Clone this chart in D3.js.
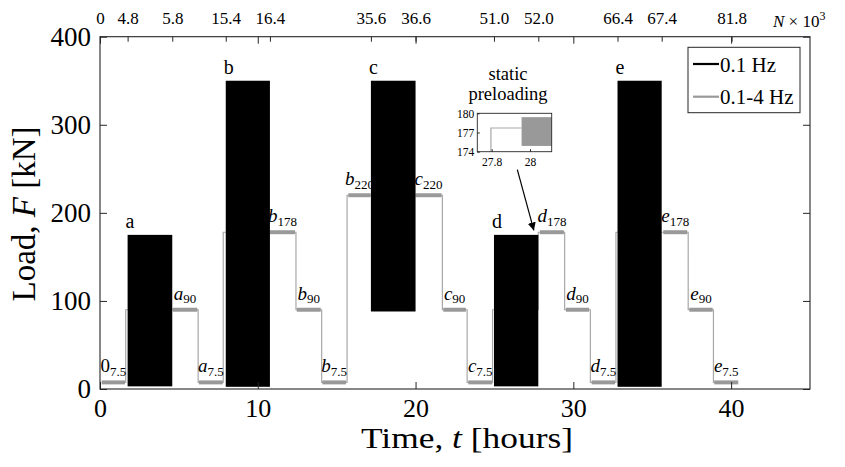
<!DOCTYPE html>
<html>
<head>
<meta charset="utf-8">
<script src="https://cdn.jsdelivr.net/npm/d3@7"></script>
<style>
  body { margin: 0; background: #fff; }
  svg text { font-family: "Liberation Serif", serif; fill: #000; }
</style>
</head>
<body>
<svg id="chart" width="845" height="467"></svg>
<script>
// ---- 0.1 Hz loading blocks (min / max envelope of the cycling) ----
const blockNames = ["a", "b", "c", "d", "e"];
const blockStart = [1.75, 7.97, 17.17, 24.97, 32.8];   // hours
const blockEnd   = [4.58, 10.77, 20.0, 27.78, 35.6];   // hours
const blockMin   = [3, 2.5, 88, 3, 2.5];               // kN
const blockMax   = [175, 350, 350, 175, 350];          // kN

// ---- 0.1-4 Hz holds between the blocks ----
const holdNames  = ["0", "a", "a", "b", "b", "b", "b", "c", "c", "c", "d", "d", "d", "e", "e", "e"];
const holdLevel  = [7.5, 90, 7.5, 178, 90, 7.5, 220, 220, 90, 7.5, 178, 90, 7.5, 178, 90, 7.5];
const holdStart  = [0.11, 4.61, 6.27, 10.77, 12.47, 14.09, 15.74, 20.0, 21.76, 23.34, 27.88, 29.53, 31.16, 35.7, 37.35, 38.93];
const holdEnd    = [1.58, 6.17, 7.78, 12.36, 13.99, 15.59, 17.15, 21.65, 23.19, 24.86, 29.4, 31.0, 32.64, 37.22, 38.83, 40.45];
const holdAmplitude = 2.25; // kN, half range of the small cycles

// ---- 0.1-4 Hz load path (step after each time) ----
const stepTime = [0.11, 1.63, 4.58, 6.22, 7.81, 10.77, 12.42, 14.05, 15.66, 20.0, 21.7, 23.27, 24.88, 27.78, 29.45, 31.08, 32.7, 35.6, 37.28, 38.88, 40.45];
const stepLoad = [7.5, 90, 90, 7.5, 178, 178, 90, 7.5, 220, 220, 90, 7.5, 90, 178, 90, 7.5, 178, 178, 90, 7.5, 7.5];

// ---- axes ticks ----
const timeTicks = [0, 10, 20, 30, 40];
const loadTicks = [0, 100, 200, 300, 400];
const cycleTickTime   = [0, 1.75, 4.58, 7.97, 10.77, 17.17, 20.0, 24.97, 27.78, 32.8, 35.6, 40.03];
const cycleTickLabels = ["0", "4.8", "5.8", "15.4", "16.4", "35.6", "36.6", "51.0", "52.0", "66.4", "67.4", "81.8"];

// ---- static preloading detail ----
const insetStepTime = [27.70, 27.796, 27.956];
const insetStepLoad = [90, 177.7, 177.7];
const insetCycleStart = 27.956, insetCycleEnd = 28.2;
const insetCycleMin = 174.9, insetCycleMax = 179.4;
const insetTimeTicks = [27.8, 28];
const insetLoadTicks = [174, 177, 180];
const arrowFrom = [26.45, 249], arrowTo = [27.5, 180];

const AXIS = "#262626", GRAY = "#999999", THIN = "#a8a8a8";
const SERIF = "'Liberation Serif', serif";

const svg = d3.select("#chart");
const defs = svg.append("defs");
const plot = { left: 100, right: 810, top: 36.7, bottom: 389 };

const x = d3.scaleLinear().domain([0, 45]).range([plot.left, plot.right]);
const y = d3.scaleLinear().domain([0, 400]).range([plot.bottom, plot.top]);

defs.append("clipPath").attr("id", "plotClip")
  .append("rect").attr("x", plot.left).attr("y", plot.top)
  .attr("width", plot.right - plot.left).attr("height", plot.bottom - plot.top);

const g = svg.append("g").attr("clip-path", "url(#plotClip)");

// thin 0.1-4 Hz transitions
const steps = stepTime.map((t, i) => [t, stepLoad[i]]);
g.append("path")
  .attr("d", d3.line().x(d => x(d[0])).y(d => y(d[1])).curve(d3.curveStepAfter)(steps))
  .attr("fill", "none").attr("stroke", THIN).attr("stroke-width", 1.2);

// holds
g.selectAll("rect.hold").data(holdLevel).join("rect").attr("class", "hold")
  .attr("x", (d, i) => x(holdStart[i]))
  .attr("width", (d, i) => x(holdEnd[i]) - x(holdStart[i]))
  .attr("y", d => y(d + holdAmplitude))
  .attr("height", d => y(d - holdAmplitude) - y(d + holdAmplitude))
  .attr("fill", GRAY);

// 0.1 Hz blocks
g.selectAll("rect.block").data(blockNames).join("rect").attr("class", "block")
  .attr("x", (d, i) => x(blockStart[i]))
  .attr("width", (d, i) => x(blockEnd[i]) - x(blockStart[i]))
  .attr("y", (d, i) => y(blockMax[i]))
  .attr("height", (d, i) => y(blockMin[i]) - y(blockMax[i]))
  .attr("fill", "#000");

// block names
svg.selectAll("text.blockName").data(blockNames).join("text").attr("class", "blockName")
  .attr("x", (d, i) => x(blockStart[i]) - 2)
  .attr("y", (d, i) => y(blockMax[i]) - 7)
  .attr("font-size", 20)
  .text(d => d);

// hold labels: letter with load subscript
holdNames.forEach((n, i) => {
  const t = svg.append("text")
    .attr("x", (x(holdStart[i]) + x(holdEnd[i])) / 2)
    .attr("y", y(holdLevel[i]) - 10)
    .attr("text-anchor", "middle");
  t.append("tspan").attr("font-size", 19).attr("font-style", n === "0" ? "normal" : "italic").text(n);
  t.append("tspan").attr("font-size", 13).attr("dy", 3.5).text(holdLevel[i]);
});

// ---- axes ----
function styleAxis(sel) {
  sel.attr("font-family", SERIF);
  sel.select(".domain").remove();
  sel.selectAll(".tick line").attr("stroke", AXIS).attr("stroke-width", 1);
}

const xAxis = svg.append("g").attr("transform", `translate(0,${plot.bottom})`)
  .call(d3.axisBottom(x).tickValues(timeTicks).tickSize(-7).tickPadding(0));
styleAxis(xAxis);
xAxis.selectAll(".tick text").attr("y", 28).attr("dy", null)
  .attr("font-size", 26).attr("fill", "#000");

const yAxis = svg.append("g").attr("transform", `translate(${plot.left},0)`)
  .call(d3.axisLeft(y).tickValues(loadTicks).tickSize(-7).tickPadding(0));
styleAxis(yAxis);
yAxis.selectAll(".tick text").attr("x", -9).attr("dy", "0.33em")
  .attr("font-size", 27).attr("fill", "#000");

const yRight = svg.append("g").attr("transform", `translate(${plot.right},0)`)
  .call(d3.axisRight(y).tickValues(loadTicks).tickSize(-7).tickFormat(""));
styleAxis(yRight);

const xTopMirror = svg.append("g").attr("transform", `translate(0,${plot.top})`)
  .call(d3.axisTop(x).tickValues(timeTicks).tickSize(-7).tickFormat(""));
styleAxis(xTopMirror);

const xTop = svg.append("g").attr("transform", `translate(0,${plot.top})`)
  .call(d3.axisTop(x).tickValues(cycleTickTime).tickSize(-5).tickPadding(0)
    .tickFormat((d, i) => cycleTickLabels[i]));
styleAxis(xTop);
xTop.selectAll(".tick text").attr("y", -13).attr("dy", null)
  .attr("font-size", 17).attr("fill", "#000");

// frame
svg.append("rect")
  .attr("x", plot.left).attr("y", plot.top)
  .attr("width", plot.right - plot.left).attr("height", plot.bottom - plot.top)
  .attr("fill", "none").attr("stroke", AXIS).attr("stroke-width", 1.1);

// N x 10^3 label
const nLab = svg.append("text").attr("x", 773).attr("y", 26.5).attr("font-size", 17);
nLab.append("tspan").attr("font-style", "italic").text("N");
nLab.append("tspan").text(" × 10");
nLab.append("tspan").attr("font-size", 12).attr("dy", -7).text("3");

// axis titles
const xl = svg.append("text")
  .attr("transform", "translate(467,448) scale(1.18,1)")
  .attr("text-anchor", "middle").attr("font-size", 30);
xl.append("tspan").text("Time, ");
xl.append("tspan").attr("font-style", "italic").text("t");
xl.append("tspan").text(" [hours]");

const yl = svg.append("text")
  .attr("transform", "translate(35,214) rotate(-90)")
  .attr("text-anchor", "middle").attr("font-size", 33);
yl.append("tspan").text("Load, ");
yl.append("tspan").attr("font-style", "italic").text("F");
yl.append("tspan").text(" [kN]");

// ---- legend ----
const leg = svg.append("g");
leg.append("rect").attr("x", 688).attr("y", 47.3).attr("width", 112).attr("height", 65.4)
  .attr("fill", "#fff").attr("stroke", AXIS).attr("stroke-width", 1);
[["0.1 Hz", "#000", 64], ["0.1-4 Hz", GRAY, 96.7]].forEach(([lab, col, ly]) => {
  leg.append("line").attr("x1", 693).attr("x2", 719).attr("y1", ly).attr("y2", ly)
    .attr("stroke", col).attr("stroke-width", 2.2);
  leg.append("text").attr("x", 720).attr("y", ly + 7.5).attr("font-size", 21).text(lab);
});

// ---- static preloading detail ----
const ix = d3.scaleLinear().domain([27.725, 28.113]).range([477.3, 551.7]);
const iy = d3.scaleLinear().domain([174, 180]).range([151.7, 113.3]);
defs.append("clipPath").attr("id", "insetClip")
  .append("rect").attr("x", 477.3).attr("y", 113.3).attr("width", 74.4).attr("height", 38.4);
const ig = svg.append("g");
ig.append("rect").attr("x", 477.3).attr("y", 113.3).attr("width", 74.4).attr("height", 38.4).attr("fill", "#fff");
const igc = ig.append("g").attr("clip-path", "url(#insetClip)");
igc.append("path")
  .attr("d", d3.line().x(d => ix(d[0])).y(d => iy(d[1])).curve(d3.curveStepAfter)(
    insetStepTime.map((t, i) => [t, insetStepLoad[i]])))
  .attr("fill", "none").attr("stroke", THIN).attr("stroke-width", 1.2);
igc.append("rect")
  .attr("x", ix(insetCycleStart)).attr("width", ix(insetCycleEnd) - ix(insetCycleStart))
  .attr("y", iy(insetCycleMax)).attr("height", iy(insetCycleMin) - iy(insetCycleMax))
  .attr("fill", GRAY);
const ixAxis = ig.append("g").attr("transform", "translate(0,151.7)")
  .call(d3.axisBottom(ix).tickValues(insetTimeTicks).tickSize(-2.5).tickPadding(0)
    .tickFormat(d3.format("")));
styleAxis(ixAxis);
ixAxis.selectAll(".tick text").attr("y", 14).attr("dy", null).attr("font-size", 11.5).attr("fill", "#000");
const iyAxis = ig.append("g").attr("transform", "translate(477.3,0)")
  .call(d3.axisLeft(iy).tickValues(insetLoadTicks).tickSize(-2.5).tickPadding(0)
    .tickFormat(d3.format("d")));
styleAxis(iyAxis);
iyAxis.selectAll(".tick text").attr("x", -3).attr("dy", "0.33em").attr("font-size", 11.5).attr("fill", "#000");
ig.append("rect").attr("x", 477.3).attr("y", 113.3).attr("width", 74.4).attr("height", 38.4)
  .attr("fill", "none").attr("stroke", AXIS).attr("stroke-width", 0.9);

svg.append("text").attr("x", 508).attr("y", 79.5).attr("text-anchor", "middle").attr("font-size", 18.5).text("static");
svg.append("text").attr("x", 508).attr("y", 100).attr("text-anchor", "middle").attr("font-size", 18.5).text("preloading");

// arrow
defs.append("marker").attr("id", "arrowHead")
  .attr("viewBox", "0 0 10 10").attr("refX", 10).attr("refY", 5)
  .attr("markerWidth", 8).attr("markerHeight", 8).attr("markerUnits", "userSpaceOnUse")
  .attr("orient", "auto")
  .append("path").attr("d", "M0,0 L10,5 L0,10 Z").attr("fill", "#000");
svg.append("line")
  .attr("x1", x(arrowFrom[0])).attr("y1", y(arrowFrom[1]))
  .attr("x2", x(arrowTo[0])).attr("y2", y(arrowTo[1]))
  .attr("stroke", "#000").attr("stroke-width", 1.2)
  .attr("marker-end", "url(#arrowHead)");
</script>
</body>
</html>
